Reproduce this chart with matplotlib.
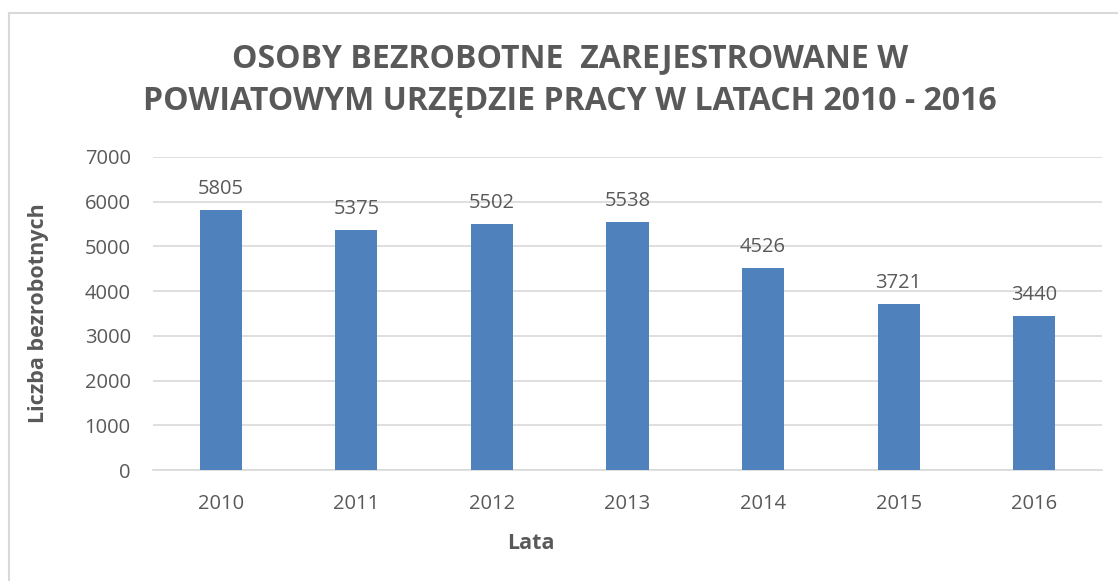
import matplotlib
matplotlib.use("Agg")
import matplotlib.pyplot as plt
from matplotlib.lines import Line2D

years = ["2010", "2011", "2012", "2013", "2014", "2015", "2016"]
values = [5805, 5375, 5502, 5538, 4526, 3721, 3440]
yticks = [0, 1000, 2000, 3000, 4000, 5000, 6000, 7000]
title = "OSOBY BEZROBOTNE  ZAREJESTROWANE W\nPOWIATOWYM URZĘDZIE PRACY W LATACH 2010 - 2016"

W, H = 1118, 581
fig = plt.figure(figsize=(W / 100, H / 100), dpi=100)
plt.rcParams['font.family'] = ['Open Sans', 'DejaVu Sans']

# axes placement in pixels
left, right, top, bottom = 153, 1102, 157, 470
ax = fig.add_axes([left / W, 1 - bottom / H, (right - left) / W, (bottom - top) / H])

txt = "#595959"
x = list(range(len(years)))
bars = ax.bar(x, values, width=0.31, color="#4F81BD", zorder=3)
ax.set_xlim(-0.5, len(years) - 0.5)
ax.set_ylim(0, 7000)
ax.set_yticks(yticks)
ax.set_xticks(x)
ax.set_xticklabels(years)
ax.grid(axis="y", color="#D9D9D9", linewidth=1.2, zorder=0)
for s in ["top", "right", "left"]:
    ax.spines[s].set_visible(False)
ax.spines["bottom"].set_color("#D9D9D9")
ax.spines["bottom"].set_linewidth(1.2)
ax.tick_params(axis="both", length=0, labelsize=14.5, colors=txt)
ax.tick_params(axis="y", pad=16)
ax.tick_params(axis="x", pad=17)

for xi, v in zip(x, values):
    ax.annotate(str(v), (xi, v), xytext=(0, 8), textcoords="offset points",
                ha="center", va="bottom", fontsize=14.5, color=txt)

ax.set_xlabel("Lata", fontsize=15.5, fontweight="bold", color=txt, labelpad=14, x=0.398)
ax.set_ylabel("Liczba bezrobotnych", fontsize=15.5, fontweight="bold", color=txt, labelpad=26)

fig.text(570 / W, 1 - 80 / H, title, ha="center", va="center", fontsize=23,
         fontweight="bold", color=txt, linespacing=1.42)

# outer chart border (top and left visible)
fig.add_artist(Line2D([9 / W, 1.01], [1 - 12.5 / H, 1 - 12.5 / H], color="#D9D9D9", linewidth=1.5, transform=fig.transFigure))
fig.add_artist(Line2D([9 / W, 9 / W], [-0.01, 1 - 12.5 / H], color="#D9D9D9", linewidth=1.5, transform=fig.transFigure))

fig.savefig("out.png", dpi=100)
